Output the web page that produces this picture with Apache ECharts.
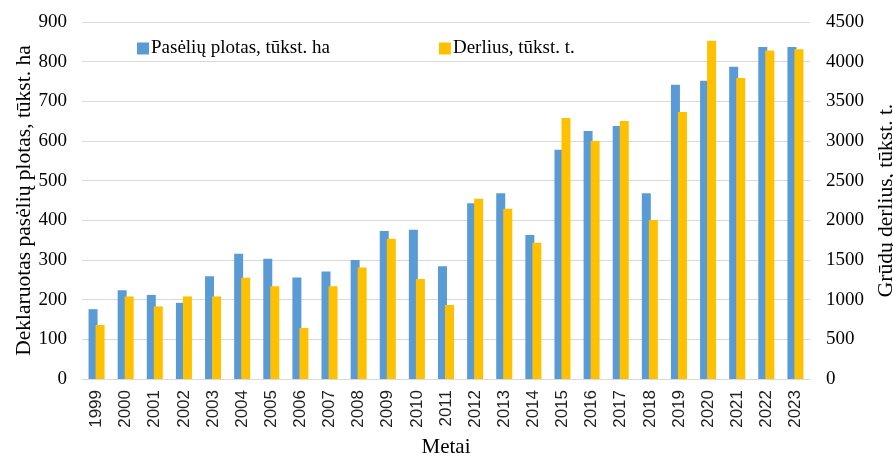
<!DOCTYPE html>
<html>
<head>
<meta charset="utf-8">
<script src="https://cdn.jsdelivr.net/npm/echarts@6/dist/echarts.min.js"></script>
<style>
  html, body { margin: 0; padding: 0; background: #fff; }
  #chart { width: 893px; height: 457px; }
</style>
</head>
<body>
<div id="chart"></div>
<script>
// Years shown along the horizontal axis
const years = ['1999','2000','2001','2002','2003','2004','2005','2006','2007','2008',
  '2009','2010','2011','2012','2013','2014','2015','2016','2017','2018',
  '2019','2020','2021','2022','2023'];

// Declared crop area, thousand ha (left axis)
const area = [176, 224, 212, 192, 259, 316, 303, 256, 271, 300,
  373, 376, 284, 443, 468, 363, 578, 625, 638, 468,
  742, 752, 787, 837, 837];

// Grain harvest, thousand t (right axis)
const harvest = [681, 1041, 915, 1041, 1041, 1277, 1168, 643, 1168, 1407,
  1769, 1261, 933, 2273, 2147, 1718, 3290, 3000, 3252, 2004,
  3365, 4264, 3794, 4142, 4155];

const seriesNames = ['Pasėlių plotas, tūkst. ha', 'Derlius, tūkst. t.'];
const leftTitle = 'Deklaruotas pasėlių plotas, tūkst. ha';
const rightTitle = 'Grūdų derlius, tūkst. t.';
const xTitle = 'Metai';

const serif = '"Liberation Serif", "Times New Roman", serif';
const sans = '"Liberation Sans", Arial, sans-serif';
const gridColor = '#d9d9d9';

const chart = echarts.init(document.getElementById('chart'), null, { renderer: 'canvas' });

chart.setOption({
  animation: false,
  backgroundColor: '#ffffff',
  grid: { left: 82, right: 83, top: 22, bottom: 78, containLabel: false, outerBoundsMode: 'none' },
  legend: {
    left: 132,
    top: 34,
    itemWidth: 12,
    itemHeight: 12,
    itemGap: 109,
    icon: 'rect',
    textStyle: { fontFamily: serif, fontSize: 19, color: '#000', padding: [0, 0, 0, -3] },
    data: seriesNames
  },
  xAxis: {
    type: 'category',
    data: years,
    name: xTitle,
    nameLocation: 'middle',
    nameGap: 58,
    nameTextStyle: { fontFamily: serif, fontSize: 21, color: '#000' },
    axisLine: { lineStyle: { color: gridColor, width: 1 } },
    axisTick: { show: false },
    axisLabel: {
      rotate: 90,
      margin: 11,
      fontFamily: sans,
      fontSize: 17,
      color: '#222'
    }
  },
  yAxis: [
    {
      type: 'value',
      min: 0, max: 900, interval: 100,
      name: leftTitle,
      nameLocation: 'middle',
      nameRotate: 90,
      nameGap: 47,
      nameMoveOverlap: false,
      nameTextStyle: { fontFamily: serif, fontSize: 21.5, color: '#000' },
      axisLine: { show: false },
      axisTick: { show: false },
      splitLine: { lineStyle: { color: gridColor, width: 1 } },
      axisLabel: { margin: 15, fontFamily: serif, fontSize: 19, color: '#000' }
    },
    {
      type: 'value',
      min: 0, max: 4500, interval: 500,
      name: rightTitle,
      nameLocation: 'middle',
      nameRotate: 90,
      nameGap: 61,
      nameTextStyle: { fontFamily: serif, fontSize: 21.5, color: '#000' },
      axisLine: { show: false },
      axisTick: { show: false },
      splitLine: { show: false },
      axisLabel: {
        margin: 16, fontFamily: serif, fontSize: 19, color: '#000',
        formatter: function (v) { return String(v); }
      }
    }
  ],
  series: [
    {
      name: seriesNames[0],
      type: 'bar',
      yAxisIndex: 0,
      data: area,
      barWidth: 9,
      barGap: '-22%',
      itemStyle: { color: '#5b9bd5' }
    },
    {
      name: seriesNames[1],
      type: 'bar',
      yAxisIndex: 1,
      data: harvest,
      barWidth: 9,
      itemStyle: { color: '#ffc000' }
    }
  ]
});
</script>
</body>
</html>
